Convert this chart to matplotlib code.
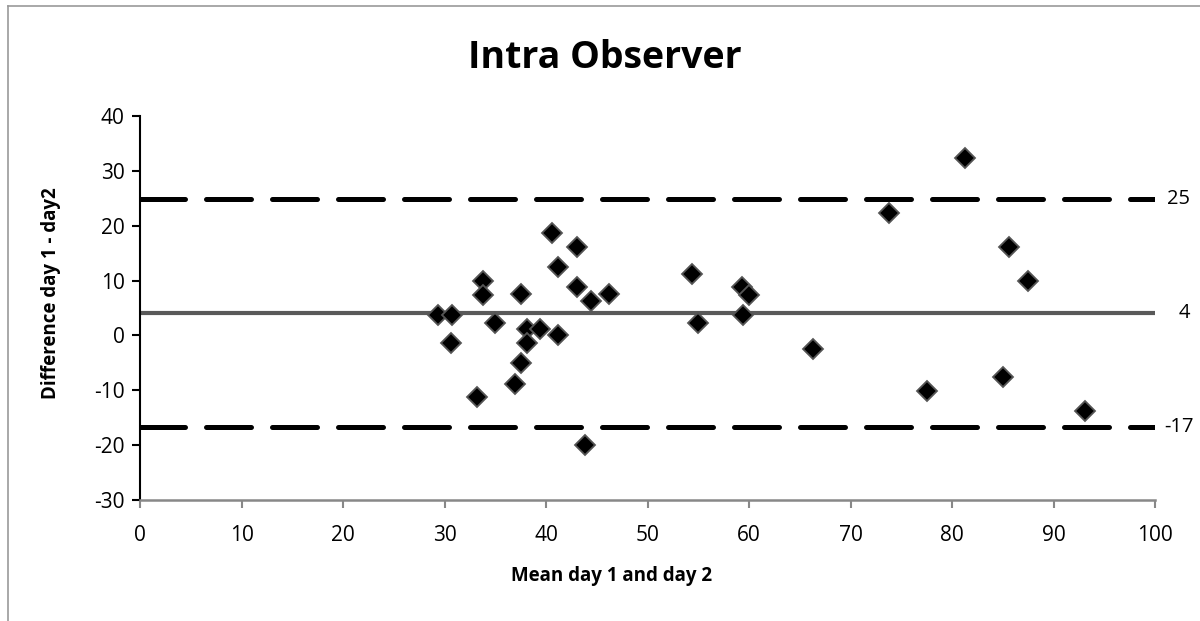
import matplotlib.pyplot as plt
from matplotlib.lines import Line2D

# Bland-Altman data
mean_vals = [29.4, 30.7, 30.6, 33.8, 33.8, 35.0, 33.2, 37.5, 38.1, 39.4,
             38.1, 37.5, 36.9, 41.2, 40.6, 43.1, 41.2, 43.1, 44.4, 46.2,
             43.8, 54.4, 55.0, 59.3, 60.0, 59.4, 66.3, 81.3, 73.8, 85.6,
             87.5, 77.5, 85.0, 93.1]
diff_vals = [3.7, 3.7, -1.3, 10.0, 7.4, 2.3, -11.3, 7.5, 1.2, 1.2,
             -1.4, -5.1, -8.9, 0.0, 18.7, 16.2, 12.4, 8.8, 6.2, 7.5,
             -20.0, 11.2, 2.3, 8.9, 7.4, 3.7, -2.5, 32.3, 22.3, 16.2,
             9.9, -10.1, -7.5, -13.8]

bias = 4.0
loa_upper = 24.8
loa_lower = -16.7
ref_labels = ["25", "4", "-17"]

x_ticks = list(range(0, 101, 10))
y_ticks = list(range(-30, 41, 10))

plt.rcParams['font.family'] = ['Open Sans', 'DejaVu Sans']
plt.rcParams['axes.unicode_minus'] = False

fig = plt.figure(figsize=(12, 6.21), dpi=100)
ax = fig.add_axes([140 / 1200, 121 / 621, 1015 / 1200, 384 / 621])

# limits of agreement and mean difference
for val in (loa_upper, loa_lower):
    ax.plot([0, 100], [val, val], color='black', lw=3.6,
            dashes=(9, 4.2), dash_capstyle='round', solid_capstyle='round')
ax.plot([0, 100], [bias, bias], color='#595959', lw=3.0)

ax.plot(mean_vals, diff_vals, linestyle='none', marker='D', markersize=10.5,
        markerfacecolor='black', markeredgecolor='#555555', markeredgewidth=1.3,
        zorder=3)

for val, lab, xp in zip((loa_upper, bias, loa_lower), ref_labels, (102.3, 102.9, 102.4)):
    ax.text(xp, val, lab, ha='center', va='center', fontsize=14.5, clip_on=False)

ax.set_xlim(0, 100)
ax.set_ylim(-30, 40)
ax.set_xticks(x_ticks)
ax.set_yticks(y_ticks)
ax.tick_params(axis='both', labelsize=15, direction='out', length=6)
ax.tick_params(axis='x', color='#888888', width=1.5, pad=12)
ax.tick_params(axis='y', color='black', width=1.5, pad=5)

for side in ('top', 'right'):
    ax.spines[side].set_visible(False)
ax.spines['left'].set_color('black')
ax.spines['left'].set_linewidth(1.5)
ax.spines['bottom'].set_color('#888888')
ax.spines['bottom'].set_linewidth(1.8)

ax.set_xlabel('Mean day 1 and day 2', fontsize=13.5, fontweight='bold')
ax.set_ylabel('Difference day 1 - day2', fontsize=13.5, fontweight='bold')
ax.xaxis.set_label_coords(0.465, -0.172)
ax.yaxis.set_label_coords(-0.078, 0.54)

fig.text(605 / 1200, 1 - 58 / 621, 'Intra Observer', ha='center', va='center',
         fontsize=27, fontweight='bold')

# chart-area border (only left and top visible in the reference crop)
fig.add_artist(Line2D([8 / 1200, 8 / 1200], [0, 1 - 6 / 621], transform=fig.transFigure,
                      color='#999999', lw=1.2))
fig.add_artist(Line2D([8 / 1200, 1], [1 - 6 / 621, 1 - 6 / 621], transform=fig.transFigure,
                      color='#999999', lw=1.2))

fig.savefig('out.png', dpi=100)
